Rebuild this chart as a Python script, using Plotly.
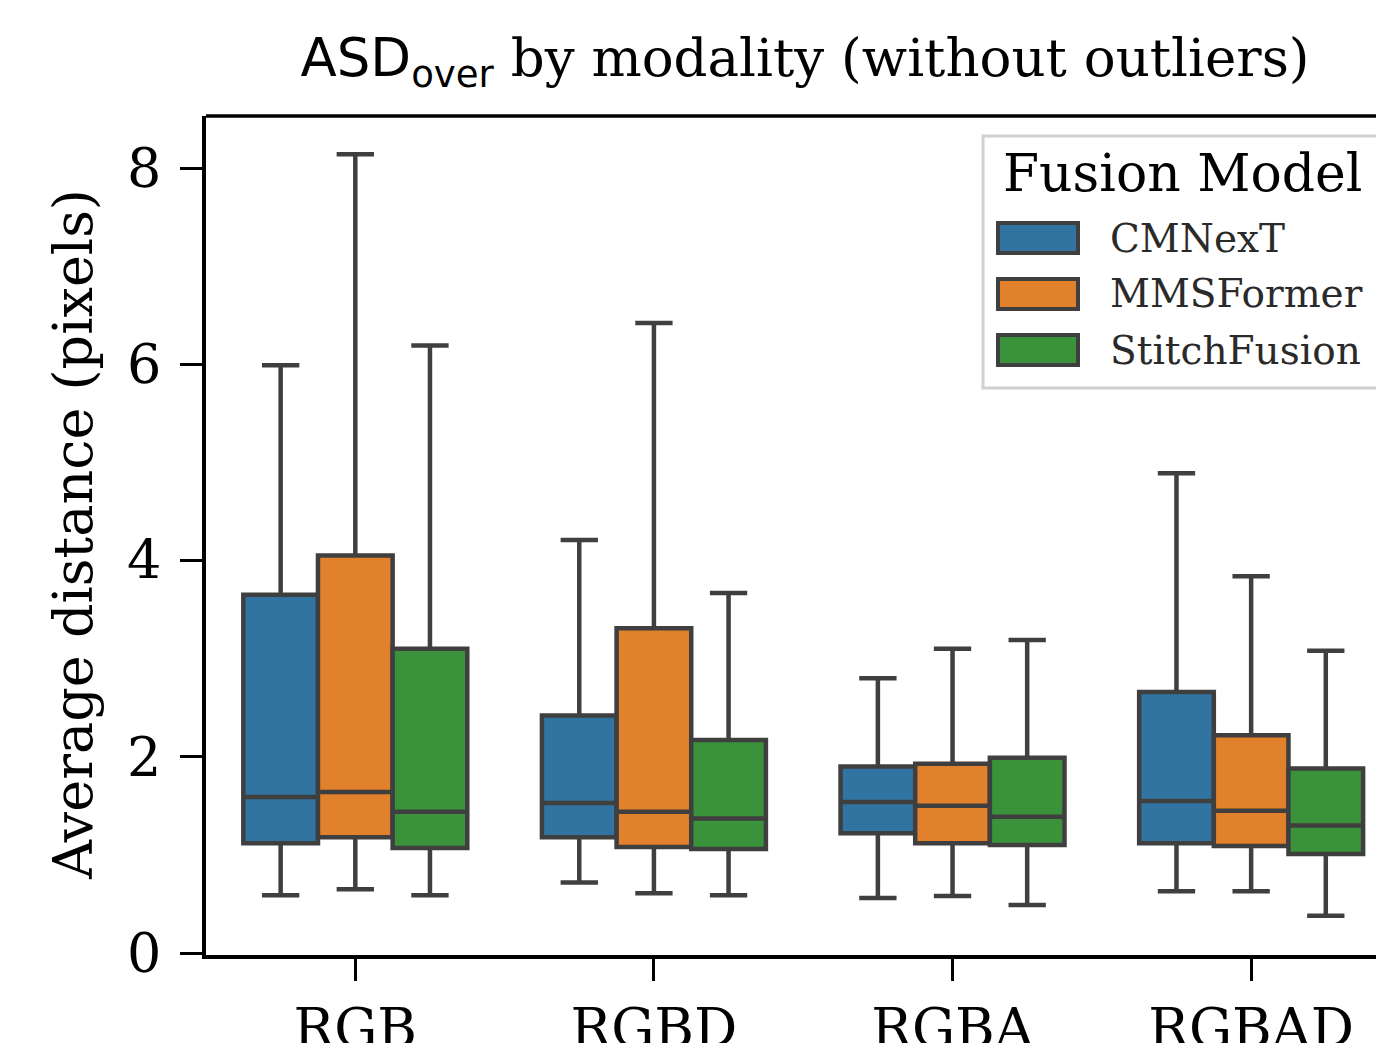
import plotly.graph_objects as go

categories = ["RGB", "RGBD", "RGBA", "RGBAD"]
models = ["CMNexT", "MMSFormer", "StitchFusion"]
colors = ["#3274a1", "#e1812c", "#3a923a"]

lower_whisker = {
    "CMNexT": [0.59, 0.72, 0.56, 0.63],
    "MMSFormer": [0.65, 0.61, 0.58, 0.63],
    "StitchFusion": [0.59, 0.59, 0.49, 0.38],
}
q1 = {
    "CMNexT": [1.12, 1.18, 1.22, 1.12],
    "MMSFormer": [1.18, 1.08, 1.12, 1.09],
    "StitchFusion": [1.07, 1.06, 1.10, 1.01],
}
median = {
    "CMNexT": [1.59, 1.53, 1.54, 1.55],
    "MMSFormer": [1.64, 1.44, 1.50, 1.45],
    "StitchFusion": [1.44, 1.37, 1.39, 1.30],
}
q3 = {
    "CMNexT": [3.65, 2.42, 1.90, 2.66],
    "MMSFormer": [4.05, 3.31, 1.93, 2.22],
    "StitchFusion": [3.10, 2.17, 1.99, 1.88],
}
upper_whisker = {
    "CMNexT": [5.99, 4.21, 2.80, 4.89],
    "MMSFormer": [8.14, 6.42, 3.10, 3.84],
    "StitchFusion": [6.19, 3.67, 3.19, 3.08],
}
y_ticks = [0, 2, 4, 6, 8]

W, H = 1376, 1043
L, R, T, B = 206, 0, 116, 88
PW, PH = W - L - R, H - T - B


def px(x):
    return (x - L) / PW


def py(y):
    return (H - B - y) / PH


SERIF = "DejaVu Serif"
EDGE = "#3f3f3f"

fig = go.Figure()
for m, c in zip(models, colors):
    fig.add_trace(go.Box(
        name=m,
        x=categories,
        q1=q1[m], median=median[m], q3=q3[m],
        lowerfence=lower_whisker[m], upperfence=upper_whisker[m],
        boxpoints=False,
        fillcolor=c,
        line=dict(color=EDGE, width=4.5),
        whiskerwidth=0.5,
        showlegend=False,
    ))

fig.update_layout(
    width=W, height=H,
    margin=dict(l=L, r=R, t=T, b=B, autoexpand=False),
    plot_bgcolor="white", paper_bgcolor="white",
    boxmode="group", boxgap=0.25, boxgroupgap=0.0,
    font=dict(family=SERIF, size=54, color="black"),
    title=dict(
        text='<span style="font-family:DejaVu Sans">ASD<sub>over</sub></span> by modality (without outliers)',
        x=805 / W, xref="container", xanchor="center",
        y=1 - 57 / H, yref="container", yanchor="middle",
        font=dict(family=SERIF, size=53, color="black"),
    ),
    xaxis=dict(
        type="category", range=[-0.5, (W - 355) / 298.7], automargin=False,
        showline=True, linecolor="black", linewidth=3.5, mirror=False,
        ticks="outside", ticklen=22, tickwidth=3, tickcolor="black",
        ticklabelstandoff=1, showgrid=False, zeroline=False,
        tickfont=dict(family=SERIF, size=54),
    ),
    yaxis=dict(
        range=[-0.02, 8.53], tickvals=y_ticks, automargin=False,
        showline=True, linecolor="black", linewidth=3.5, mirror=False,
        ticks="outside", ticklen=22, tickwidth=3, tickcolor="black",
        ticklabelstandoff=8, showgrid=False, zeroline=False,
        tickfont=dict(family=SERIF, size=54),
    ),
)

shapes = [
    dict(type="line", xref="paper", yref="paper", x0=0, x1=1.05, y0=1, y1=1,
         line=dict(color="black", width=3.5)),
]
# legend frame
lx0, lx1, ly0, ly1 = px(983), px(1400), py(136), py(388)
shapes.append(dict(type="rect", xref="paper", yref="paper", x0=lx0, x1=lx1, y0=ly1, y1=ly0,
                   line=dict(color="#d0d0d0", width=3), fillcolor="rgba(255,255,255,0.8)", layer="above"))
annotations = [
    dict(text="Average distance (pixels)", xref="paper", yref="paper", x=px(73), y=py(535),
         textangle=-90, showarrow=False, xanchor="center", yanchor="middle",
         font=dict(family=SERIF, size=54, color="black")),
    dict(text="Fusion Model", xref="paper", yref="paper", x=px(1182), y=py(173),
         showarrow=False, xanchor="center", yanchor="middle",
         font=dict(family=SERIF, size=52, color="black")),
]
item_y = [238, 294, 350]
for m, c, yy in zip(models, colors, item_y):
    shapes.append(dict(type="rect", xref="paper", yref="paper", x0=px(998), x1=px(1078),
                       y0=py(yy - 15), y1=py(yy + 15), fillcolor=c,
                       line=dict(color=EDGE, width=4), layer="above"))
    annotations.append(dict(text=m, xref="paper", yref="paper", x=px(1108), y=py(yy),
                            showarrow=False, xanchor="left", yanchor="middle",
                            font=dict(family=SERIF, size=39, color="#2a2a2a")))

fig.update_layout(shapes=shapes, annotations=annotations)
fig.write_html("out.html", config={"displayModeBar": False},
               post_script="document.body.style.margin='0';document.body.style.overflow='hidden';")
